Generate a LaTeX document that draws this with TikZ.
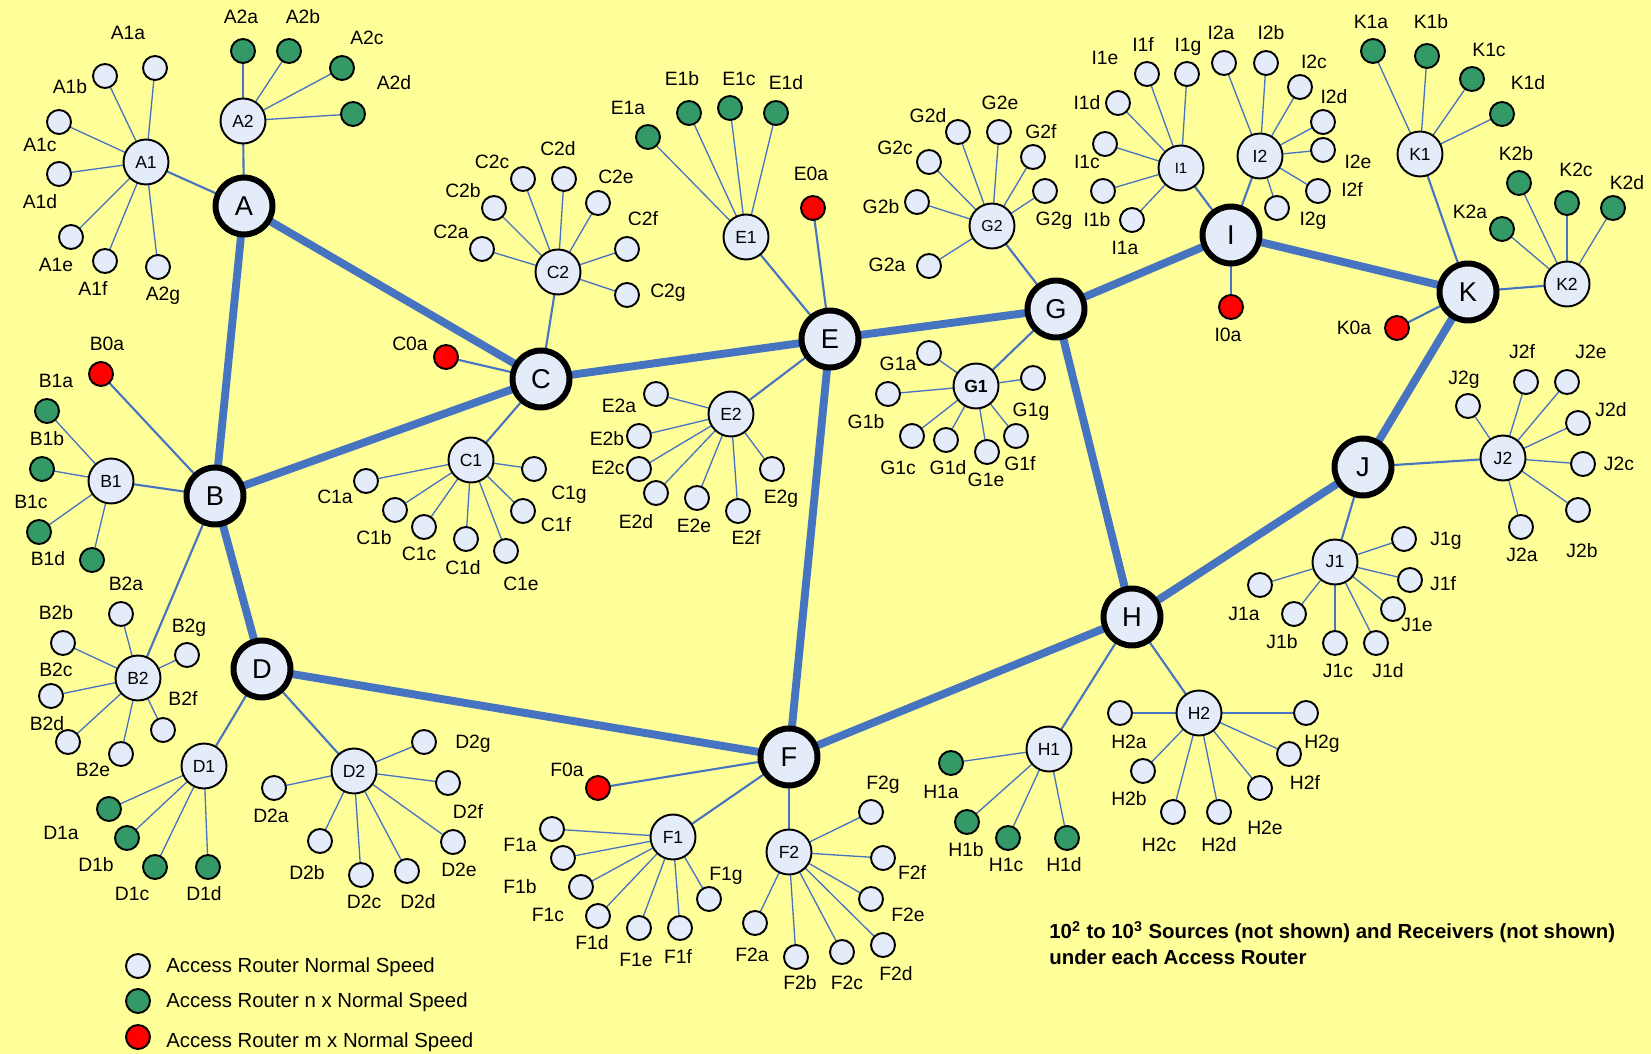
\documentclass[tikz,border=0pt]{standalone}
\usepackage{fontspec}
\setmainfont{Liberation Sans}
\pgfdeclarelayer{background}
\pgfsetlayers{background,main}
\definecolor{bgy}{RGB}{255,255,153}
\definecolor{nfill}{RGB}{228,236,250}
\definecolor{ngreen}{RGB}{51,153,102}
\definecolor{nred}{RGB}{255,0,0}
\definecolor{lblue}{RGB}{71,116,192}
\tikzset{
 core/.style={circle, draw=black, line width=3.4pt, fill=nfill, minimum size=1.14cm, inner sep=0pt, font=\fontsize{15.5}{16}\selectfont},
 mid/.style={circle, draw=black, line width=1.1pt, fill=nfill, minimum size=0.9cm, inner sep=0pt, font=\fontsize{10}{11}\selectfont},
 leaf/.style={circle, draw=black, line width=1.1pt, fill=nfill, minimum size=0.48cm, inner sep=0pt},
 gleaf/.style={leaf, fill=ngreen},
 rleaf/.style={leaf, fill=nred},
 lbl/.style={inner sep=0pt, text height=7.9pt, text depth=0pt, font=\fontsize{11}{12}\selectfont},
 trunk/.style={line width=4.5pt, draw=lblue},
 link/.style={line width=1.2pt, draw=lblue},
 spoke/.style={line width=0.75pt, draw=lblue},
}
\newcommand\grp[3]{\foreach \x/\y [count=\i] in {#3} {\node[#2] (#1-\i) at (\x,\y) {};
  \begin{pgfonlayer}{background}\draw[spoke] (#1.center) -- (#1-\i.center);\end{pgfonlayer}}}
\newcommand\lb[3]{\node[lbl] (l#1) at (#2,#3) {#1};}
\begin{document}
\begin{tikzpicture}[x=0.02cm, y=-0.02cm]
\begin{pgfonlayer}{background}
\fill[bgy] (0,0) rectangle (1651,1054);
\end{pgfonlayer}
\useasboundingbox (0,0) rectangle (1651,1054);
% core
\node[core] (A) at (244,206) {A};
\node[core] (B) at (215,496) {B};
\node[core] (C) at (541,379) {C};
\node[core] (D) at (262,669) {D};
\node[core] (E) at (830,339) {E};
\node[core] (F) at (789,757) {F};
\node[core] (G) at (1056,309) {G};
\node[core] (H) at (1132,617) {H};
\node[core] (I) at (1231,235) {I};
\node[core] (J) at (1363,467) {J};
\node[core] (K) at (1468,292) {K};
% mid
\node[mid] (A1) at (146,162) {A1};
\node[mid] (A2) at (243,121) {A2};
\node[mid] (B1) at (111,481) {B1};
\node[mid] (B2) at (138,678) {B2};
\node[mid] (C1) at (471,460) {C1};
\node[mid] (C2) at (558,272) {C2};
\node[mid] (D1) at (204,766) {D1};
\node[mid] (D2) at (354,771) {D2};
\node[mid] (E1) at (746,237) {E1};
\node[mid] (E2) at (731,414) {E2};
\node[mid] (F1) at (673,837) {F1};
\node[mid] (F2) at (789,852) {F2};
\node[mid] (G1) at (976,386) {\bfseries G1};
\node[mid, font=\fontsize{9}{10}\selectfont] (G2) at (992,226) {G2};
\node[mid] (H1) at (1049,749) {H1};
\node[mid] (H2) at (1199,713) {H2};
\node[mid, font=\fontsize{8.5}{10}\selectfont] (I1) at (1181,168) {I1};
\node[mid] (I2) at (1260,156) {I2};
\node[mid] (J1) at (1335,562) {J1};
\node[mid] (J2) at (1503,458) {J2};
\node[mid] (K1) at (1420,154) {K1};
\node[mid] (K2) at (1567,284) {K2};
% red leaves
\node[rleaf] (B0a) at (101,374) {};
\node[rleaf] (C0a) at (446,357) {};
\node[rleaf] (E0a) at (813,208) {};
\node[rleaf] (F0a) at (598,788) {};
\node[rleaf] (I0a) at (1231,307) {};
\node[rleaf] (K0a) at (1397,328) {};
% leaf groups
\grp{A1}{leaf}{155/68,105/76,59/122,59/174,71/237,105/261,158/267}
\grp{A2}{gleaf}{243/51,289/51,342/68,353/114}
\grp{B1}{gleaf}{47/411,42/469,39/532,92/560}
\grp{B2}{leaf}{121/614,63/643,51/696,68/742,121/754,163/730,187/655}
\grp{C1}{leaf}{366/481,395/510,424/527,466/539,506/551,523/511,534/469}
\grp{C2}{leaf}{482/249,494/208,523/179,564/179,598/203,627/249,627/295}
\grp{D1}{gleaf}{109/809,127/838,155/867,208/867}
\grp{D2}{leaf}{274/788,320/841,361/875,407/871,453/842,448/783,424/742}
\grp{E1}{gleaf}{648/137,689/113,730/108,776/113}
\grp{E2}{leaf}{656/394,639/436,639/469,656/493,697/498,738/511,772/469}
\grp{F1}{leaf}{552/829,563/858,581/887,598/916,639/928,680/928,709/899}
\grp{F2}{leaf}{755/923,796/957,842/952,883/945,871/899,883/858,871/812}
\grp{G1}{leaf}{929/353,888/394,912/436,946/440,987/452,1016/436,1033/378}
\grp{G2}{leaf}{929/266,917/202,929/162,958/132,999/132,1033/157,1045/191}
\grp{H1}{gleaf}{951/763,967/822,1008/838,1067/838}
\grp{H2}{leaf}{1120/713,1143/771,1173/812,1219/812,1260/788,1289/754,1306/713}
\grp{I1}{leaf}{1132/220,1103/191,1105/144,1118/103,1147/74,1187/74}
\grp{I2}{leaf}{1224/63,1266/63,1300/87,1323/122,1323/150,1318/191,1277/208}
\grp{J1}{leaf}{1260/585,1294/614,1335/643,1376/643,1393/609,1410/580,1404/539}
\grp{J2}{leaf}{1521/527,1578/510,1583/464,1578/423,1567/382,1526/382,1468/406}
\grp{K1}{gleaf}{1373/51,1427/56,1472/79,1502/114}
\grp{K2}{gleaf}{1502/229,1519/183,1567/203,1613/208}
% connectors
\begin{pgfonlayer}{background}
\draw[trunk] (A.center) -- (B.center);
\draw[trunk] (A.center) -- (C.center);
\draw[trunk] (B.center) -- (C.center);
\draw[trunk] (B.center) -- (D.center);
\draw[trunk] (C.center) -- (E.center);
\draw[trunk] (D.center) -- (F.center);
\draw[trunk] (E.center) -- (G.center);
\draw[trunk] (E.center) -- (F.center);
\draw[trunk] (F.center) -- (H.center);
\draw[trunk] (G.center) -- (H.center);
\draw[trunk] (G.center) -- (I.center);
\draw[trunk] (I.center) -- (K.center);
\draw[trunk] (K.center) -- (J.center);
\draw[trunk] (J.center) -- (H.center);
\foreach \m/\c in {A1/A,A2/A,B1/B,B2/B,C1/C,C2/C,D1/D,D2/D,E1/E,E2/E,F1/F,F2/F,G1/G,G2/G,H1/H,H2/H,I1/I,I2/I,J1/J,J2/J,K1/K,K2/K,B0a/B,C0a/C,E0a/E,F0a/F,I0a/I,K0a/K}
  \draw[link] (\m.center) -- (\c.center);
\end{pgfonlayer}
% labels
\lb{A1a}{128}{33}\lb{A1b}{70}{87}\lb{A1c}{40}{145}\lb{A1d}{40}{202}\lb{A1e}{56}{265}\lb{A1f}{93}{289}\lb{A2g}{163}{294}
\lb{A2a}{241}{17}\lb{A2b}{303}{17}\lb{A2c}{367}{38}\lb{A2d}{394}{83}
\lb{B0a}{107}{344}\lb{B1a}{56}{381}\lb{B1b}{47}{439}\lb{B1c}{31}{502}\lb{B1d}{48}{559}
\lb{B2a}{126}{584}\lb{B2b}{56}{613}\lb{B2c}{56}{670}\lb{B2d}{47}{724}\lb{B2e}{93}{770}\lb{B2f}{183}{699}\lb{B2g}{189}{626}
\lb{C0a}{410}{344}
\lb{C1a}{335}{497}\lb{C1b}{374}{538}\lb{C1c}{419}{554}\lb{C1d}{463}{568}\lb{C1e}{521}{584}\lb{C1f}{556}{525}\lb{C1g}{569}{493}
\lb{C2a}{451}{232}\lb{C2b}{463}{191}\lb{C2c}{492}{162}\lb{C2d}{558}{149}\lb{C2e}{616}{177}\lb{C2f}{643}{219}\lb{C2g}{668}{291}
\lb{D1a}{61}{833}\lb{D1b}{96}{865}\lb{D1c}{132}{894}\lb{D1d}{204}{894}
\lb{D2a}{271}{816}\lb{D2b}{307}{873}\lb{D2c}{364}{902}\lb{D2d}{418}{902}\lb{D2e}{459}{870}\lb{D2f}{468}{812}\lb{D2g}{473}{742}
\lb{E0a}{811}{174}\lb{E1a}{628}{108}\lb{E1b}{682}{79}\lb{E1c}{739}{79}\lb{E1d}{786}{83}
\lb{E2a}{619}{406}\lb{E2b}{607}{439}\lb{E2c}{608}{468}\lb{E2d}{636}{522}\lb{E2e}{694}{526}\lb{E2f}{746}{538}\lb{E2g}{781}{497}
\lb{F0a}{567}{770}\lb{F1a}{520}{845}\lb{F1b}{520}{887}\lb{F1c}{548}{915}\lb{F1d}{592}{943}\lb{F1e}{636}{960}\lb{F1f}{678}{957}\lb{F1g}{726}{874}
\lb{F2a}{752}{955}\lb{F2b}{800}{983}\lb{F2c}{847}{983}\lb{F2d}{896}{974}\lb{F2e}{908}{915}\lb{F2f}{912}{873}\lb{F2g}{883}{783}
\lb{G1a}{898}{364}\lb{G1b}{866}{422}\lb{G1c}{898}{468}\lb{G1d}{948}{468}\lb{G1e}{986}{480}\lb{G1f}{1020}{464}\lb{G1g}{1031}{410}
\lb{G2a}{887}{265}\lb{G2b}{881}{207}\lb{G2c}{895}{148}\lb{G2d}{928}{116}\lb{G2e}{1000}{103}\lb{G2f}{1041}{132}\lb{G2g}{1054}{219}
\lb{H1a}{941}{792}\lb{H1b}{966}{850}\lb{H1c}{1006}{865}\lb{H1d}{1064}{865}
\lb{H2a}{1129}{742}\lb{H2b}{1129}{799}\lb{H2c}{1159}{845}\lb{H2d}{1219}{845}\lb{H2e}{1265}{828}\lb{H2f}{1305}{783}\lb{H2g}{1322}{742}
\lb{I0a}{1228}{335}\lb{I1a}{1125}{248}\lb{I1b}{1097}{220}\lb{I1c}{1087}{162}\lb{I1d}{1087}{103}\lb{I1e}{1105}{58}\lb{I1f}{1143}{45}\lb{I1g}{1188}{45}
\lb{I2a}{1221}{33}\lb{I2b}{1271}{33}\lb{I2c}{1314}{62}\lb{I2d}{1334}{97}\lb{I2e}{1358}{162}\lb{I2f}{1352}{190}\lb{I2g}{1313}{219}
\lb{J1a}{1244}{614}\lb{J1b}{1282}{642}\lb{J1c}{1338}{671}\lb{J1d}{1388}{671}\lb{J1e}{1417}{625}\lb{J1f}{1443}{584}\lb{J1g}{1446}{539}
\lb{J2a}{1522}{555}\lb{J2b}{1582}{551}\lb{J2c}{1619}{464}\lb{J2d}{1611}{410}\lb{J2e}{1591}{352}\lb{J2f}{1522}{352}\lb{J2g}{1464}{378}
\lb{K0a}{1354}{328}\lb{K1a}{1371}{22}\lb{K1b}{1431}{22}\lb{K1c}{1489}{50}\lb{K1d}{1528}{83}
\lb{K2a}{1470}{212}\lb{K2b}{1516}{154}\lb{K2c}{1576}{170}\lb{K2d}{1627}{183}
% legend
\node[leaf] (lg1) at (138,966) {};
\node[gleaf] (lg2) at (138,1001) {};
\node[rleaf] (lg3) at (138,1037) {};
\node[lbl, anchor=west, font=\fontsize{11.6}{12}\selectfont] (lt1) at (166,966) {Access Router Normal Speed};
\node[lbl, anchor=west, font=\fontsize{11.6}{12}\selectfont] (lt2) at (166,1001) {Access Router n x Normal Speed};
\node[lbl, anchor=west, font=\fontsize{11.6}{12}\selectfont] (lt3) at (166,1041) {Access Router m x Normal Speed};
% note
\node[lbl, anchor=west, font=\bfseries\fontsize{11.6}{12}\selectfont] (n1) at (1049,932) {10\textsuperscript{2} to 10\textsuperscript{3} Sources (not shown) and Receivers (not shown)};
\node[lbl, anchor=west, font=\bfseries\fontsize{11.6}{12}\selectfont] (n2) at (1049,958) {under each Access Router};
\end{tikzpicture}
\end{document}
